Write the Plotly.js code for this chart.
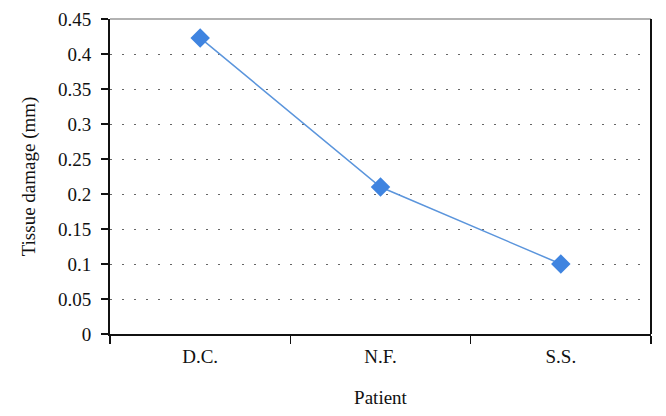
<!DOCTYPE html>
<html>
<head>
<meta charset="utf-8">
<script src="https://cdn.plot.ly/plotly-3.0.1.min.js"></script>
<style>
  html, body { margin: 0; padding: 0; background: #fff; }
  #chart { width: 666px; height: 416px; }
</style>
</head>
<body>
<div id="chart"></div>
<script>
// patients and measured tissue damage
const patients = ['D.C.', 'N.F.', 'S.S.'];
const damage = [0.423, 0.21, 0.1];
const yTicks = [0, 0.05, 0.1, 0.15, 0.2, 0.25, 0.3, 0.35, 0.4, 0.45];
const yTickLabels = ['0', '0.05', '0.1', '0.15', '0.2', '0.25', '0.3', '0.35', '0.4', '0.45'];

const font = { family: 'Liberation Serif, Times New Roman, serif', size: 19, color: '#111' };

const trace = {
    x: patients,
    y: damage,
    type: 'scatter',
    mode: 'lines+markers',
    line: { color: '#5b95dc', width: 1.5 },
    marker: { symbol: 'diamond', size: 15, color: '#3f84e0' },
    cliponaxis: false,
    hoverinfo: 'skip'
};

const layout = {
    width: 666,
    height: 416,
    margin: { l: 110, r: 15, t: 19, b: 82 },
    paper_bgcolor: '#fff',
    plot_bgcolor: '#fff',
    font: font,
    showlegend: false,
    xaxis: {
        type: 'category',
        range: [-0.5, 2.5],
        tickson: 'boundaries',
        ticks: 'outside',
        ticklen: 8,
        tickwidth: 1.5,
        tickcolor: '#111',
        showline: true,
        linecolor: '#111',
        linewidth: 2,
        showgrid: false,
        zeroline: false,
        tickfont: font,
        ticklabelstandoff: 4,
        title: { text: 'Patient', font: font, standoff: 25 }
    },
    yaxis: {
        range: [0, 0.45],
        tickvals: yTicks,
        ticktext: yTickLabels,
        ticks: 'outside',
        ticklen: 7,
        tickwidth: 1.5,
        tickcolor: '#111',
        showline: true,
        linecolor: '#111',
        linewidth: 2,
        showgrid: true,
        gridcolor: '#666',
        gridwidth: 1,
        griddash: '1.5px,10.5px',
        zeroline: false,
        tickfont: font,
        ticklabelstandoff: 6,
        title: { text: 'Tissue damage (mm)', font: font, standoff: 17 }
    },
    shapes: [
        { type: 'line', xref: 'paper', yref: 'paper', x0: 0, x1: 1, y0: 1, y1: 1,
          line: { color: '#999', width: 1.5 } },
        { type: 'line', xref: 'paper', yref: 'paper', x0: 1, x1: 1, y0: 0, y1: 1,
          line: { color: '#111', width: 2 } }
    ]
};

Plotly.newPlot('chart', [trace], layout, { staticPlot: true });
</script>
</body>
</html>
